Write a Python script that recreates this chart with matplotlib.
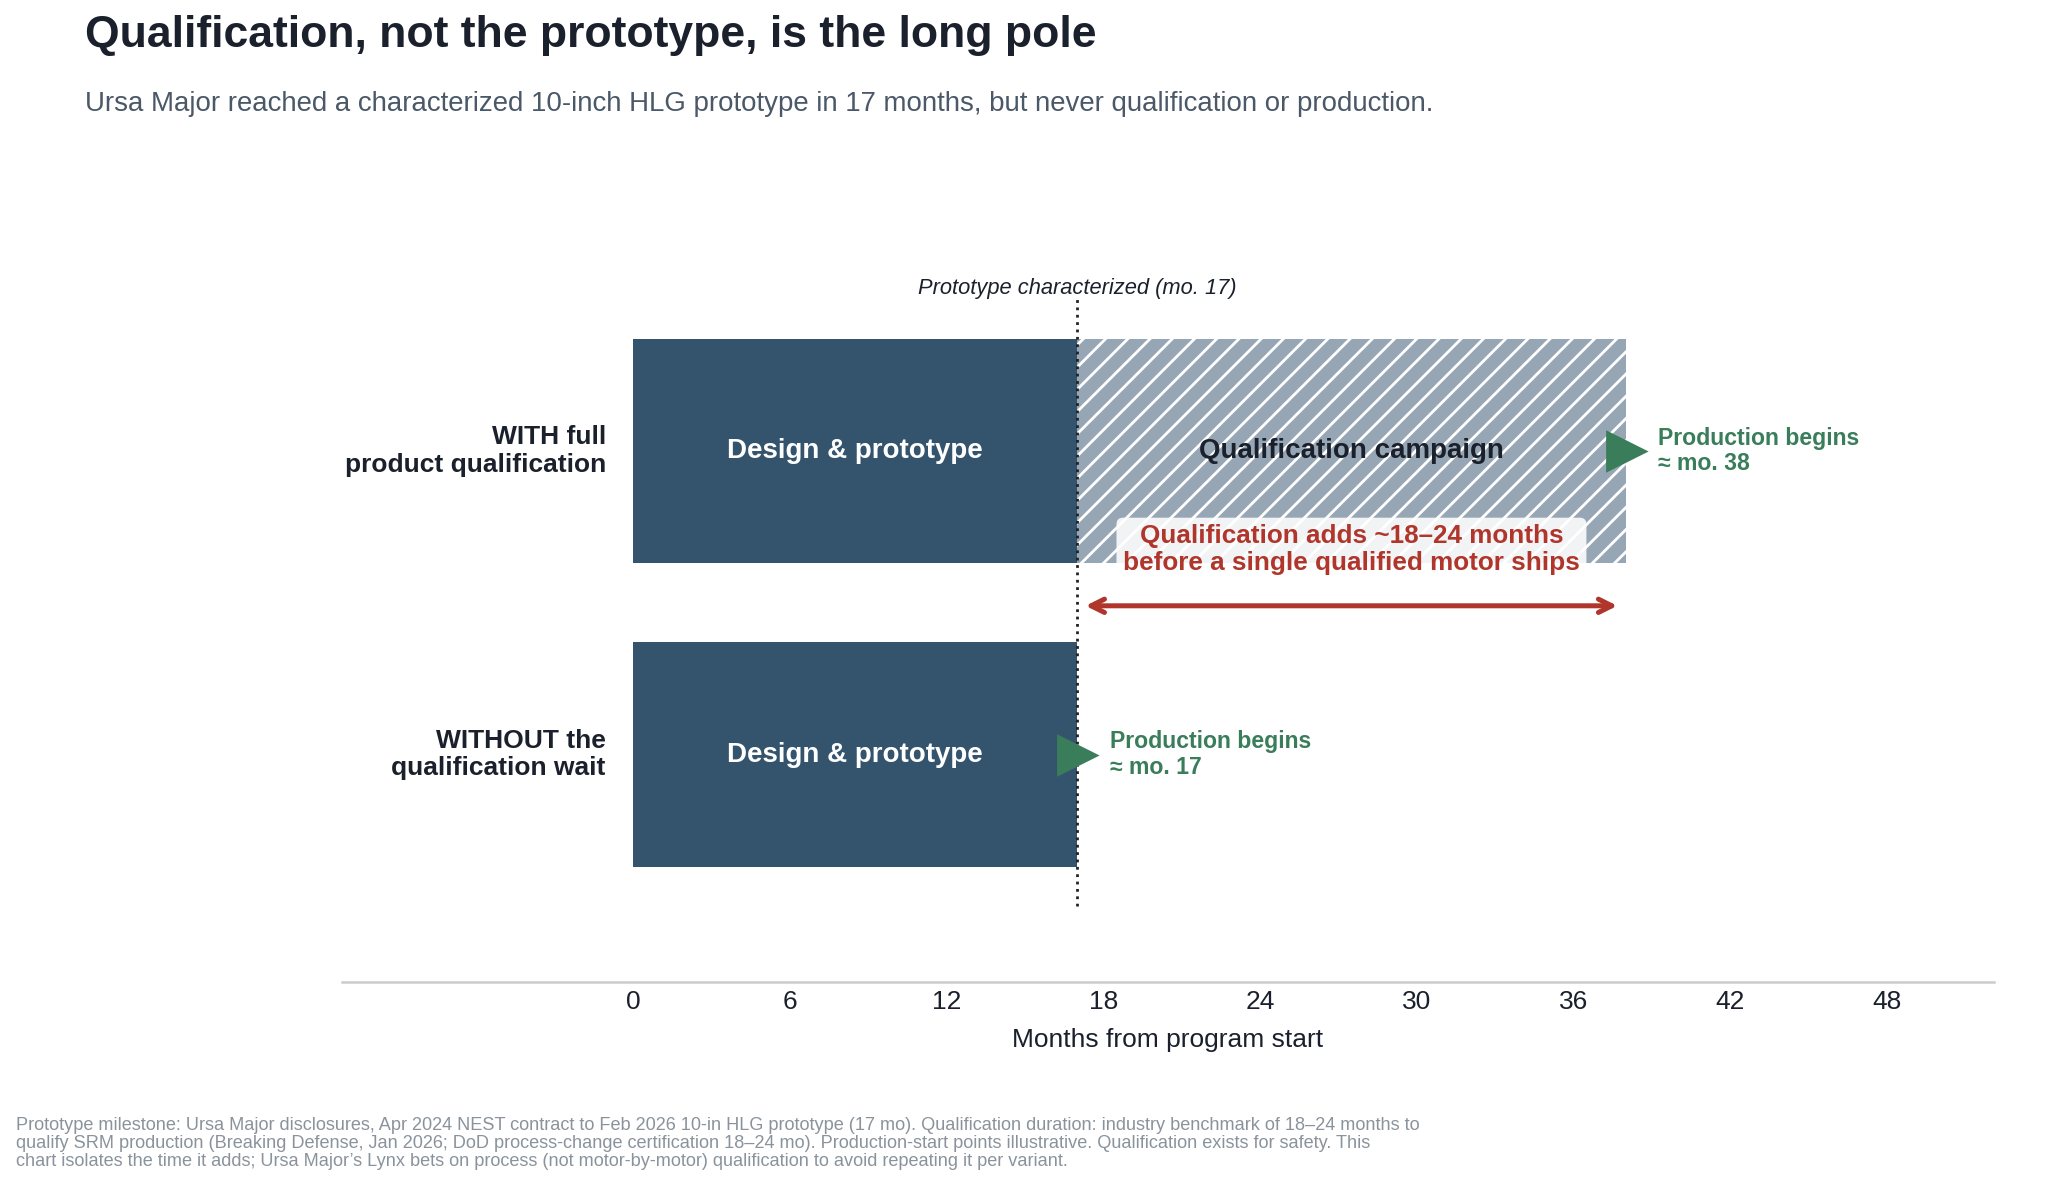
import matplotlib.pyplot as plt
import numpy as np

plt.rcParams['font.family'] = ['Liberation Sans', 'DejaVu Sans']
plt.rcParams['hatch.linewidth'] = 1.0

##########

# data
rows = ["WITHOUT the\nqualification wait", "WITH full\nproduct qualification"]
row_y = [0, 1]
design_start = [0, 0]
design_len = [17, 17]
qual_start = 17
qual_len = 21
prod_start = [17, 38]
prototype_month = 17
x_ticks = [0, 6, 12, 18, 24, 30, 36, 42, 48]

dark = "#34546e"
qual_grey = "#97a6b4"
green = "#3a7d5a"
red = "#b0352b"
ink = "#1a202c"

##########

fig = plt.figure(figsize=(10.24, 5.895), dpi=200)
ax = fig.add_axes([0.167, 0.167, 0.8066, 0.6435])

ax.barh(row_y, design_len, left=design_start, height=0.74, color=dark, zorder=2)
ax.barh(row_y[1], qual_len, left=qual_start, height=0.74, color=qual_grey,
        edgecolor="white", linewidth=0, hatch="///", zorder=2)

for y in row_y:
    ax.text(design_start[y] + design_len[y] / 2, y, "Design & prototype", ha="center", va="center",
            color="white", fontsize=10, fontweight="bold", zorder=4)
ax.text(qual_start + qual_len / 2, 1, "Qualification campaign", ha="center", va="center",
        color=ink, fontsize=10, fontweight="bold", zorder=4)

# row labels
for y, lab in zip(row_y, rows):
    ax.text(-1.05, y, lab, ha="right", va="center", fontsize=9.5, fontweight="bold",
            color=ink, linespacing=1.2)

# prototype line
ax.plot([prototype_month, prototype_month], [-0.5, 1.5], linestyle=":", color="#222222",
        lw=1.0, zorder=3)
ax.text(prototype_month, 1.535, "Prototype characterized (mo. %d)" % prototype_month,
        ha="center", va="center", fontsize=7.9, style="italic", color=ink)

# production markers
for y, x in zip(row_y, prod_start):
    ax.plot(x, y, marker=">", markersize=13.5, color=green, zorder=5, linestyle="none")
    ax.text(x + 1.25, y, "Production begins\n\u2248 mo. %d" % x, ha="left", va="center",
            fontsize=8.3, fontweight="bold", color=green, linespacing=1.15)

# qualification span
ax.annotate("", xy=(qual_start + qual_len, 0.49), xytext=(qual_start, 0.49),
            arrowprops=dict(arrowstyle="<->", color=red, lw=1.8, shrinkA=3, shrinkB=3,
                            mutation_scale=12), zorder=4)
ax.text(qual_start + qual_len / 2, 0.675,
        "Qualification adds ~18\u201324 months\nbefore a single qualified motor ships",
        ha="center", va="center", fontsize=9.4, fontweight="bold", color=red, linespacing=1.15,
        bbox=dict(boxstyle="round,pad=0.25", facecolor="white", edgecolor="none", alpha=0.88),
        zorder=4)

ax.set_xlim(-11.15, 52.1)
ax.set_ylim(-0.75, 1.75)
ax.set_xticks(x_ticks)
ax.set_xticklabels([str(t) for t in x_ticks], fontsize=9.5, color=ink)
ax.tick_params(axis="x", length=0, pad=3)
ax.set_yticks([])
ax.set_xlabel("Months from program start", fontsize=9.5, color=ink, labelpad=5)
for s in ["top", "right", "left"]:
    ax.spines[s].set_visible(False)
ax.spines["bottom"].set_color("#cccccc")
ax.spines["bottom"].set_linewidth(0.9)

fig.text(0.0415, 0.970, "Qualification, not the prototype, is the long pole", ha="left",
         va="center", fontsize=16, fontweight="bold", color=ink)
fig.text(0.0415, 0.912, "Ursa Major reached a characterized 10-inch HLG prototype in 17 months, "
         "but never qualification or production.", ha="left", va="center", fontsize=9.95,
         color="#4a5868")
fig.text(0.0078, 0.053,
         "Prototype milestone: Ursa Major disclosures, Apr 2024 NEST contract to Feb 2026 10-in HLG prototype (17 mo). "
         "Qualification duration: industry benchmark of 18\u201324 months to\n"
         "qualify SRM production (Breaking Defense, Jan 2026; DoD process-change certification 18\u201324 mo). "
         "Production-start points illustrative. Qualification exists for safety. This\n"
         "chart isolates the time it adds; Ursa Major\u2019s Lynx bets on process (not motor-by-motor) "
         "qualification to avoid repeating it per variant.",
         ha="left", va="top", fontsize=6.55, color="#8a939c", linespacing=1.1)

plt.savefig("out.png", dpi=200)
